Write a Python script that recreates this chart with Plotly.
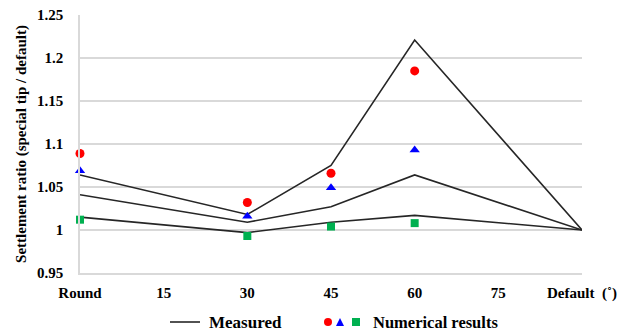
import plotly.graph_objects as go

categories = ["Round", "15", "30", "45", "60", "75", "Default  (˚)"]
line_x = ["Round", "30", "45", "60", "Default  (˚)"]
measured_upper = [1.064, 1.018, 1.075, 1.221, 1.0]
measured_middle = [1.041, 1.009, 1.027, 1.064, 1.0]
measured_lower = [1.015, 0.997, 1.009, 1.017, 1.0]

num_x = ["Round", "30", "45", "60"]
num_circle = [1.089, 1.032, 1.066, 1.185]
num_triangle = [1.069, 1.016, 1.049, 1.093]
num_square = [1.012, 0.993, 1.004, 1.008]

y_ticks = [0.95, 1.0, 1.05, 1.1, 1.15, 1.2, 1.25]
y_ticktext = ["0.95", "1", "1.05", "1.1", "1.15", "1.2", "1.25"]

pos = {c: i for i, c in enumerate(categories)}
font_family = "Liberation Serif"

fig = go.Figure()
for series in (measured_upper, measured_middle, measured_lower):
    fig.add_trace(go.Scatter(
        x=[pos[c] for c in line_x], y=series, mode="lines",
        line=dict(color="#262626", width=1.6), showlegend=False, cliponaxis=False))

for vals, sym, col in ((num_circle, "circle", "#ff0000"),
                       (num_triangle, "triangle-up", "#0000ff"),
                       (num_square, "square", "#00b050")):
    fig.add_trace(go.Scatter(
        x=[pos[c] for c in num_x], y=vals, mode="markers",
        marker=dict(symbol=sym, color=col, size=9 if sym != "square" else 8, line=dict(width=0)),
        showlegend=False, cliponaxis=False))

# legend drawn with shapes + annotations
def px2paper_x(px):
    return (px - 80) / 502.0

def py2paper_y(py):
    return (273 - py) / 258.0

ly = py2paper_y(322)
shapes = [
    dict(type="line", xref="paper", yref="paper", x0=px2paper_x(170), x1=px2paper_x(200),
         y0=ly, y1=ly, line=dict(color="#262626", width=1.6)),
    dict(type="circle", xref="paper", yref="paper", x0=px2paper_x(324), x1=px2paper_x(332),
         y0=py2paper_y(326), y1=py2paper_y(318), fillcolor="#ff0000", line=dict(width=0)),
    dict(type="path", xref="paper", yref="paper",
         path="M {} {} L {} {} L {} {} Z".format(px2paper_x(336), py2paper_y(326),
                                                 px2paper_x(344), py2paper_y(326),
                                                 px2paper_x(340), py2paper_y(318)),
         fillcolor="#0000ff", line=dict(width=0)),
    dict(type="rect", xref="paper", yref="paper", x0=px2paper_x(352), x1=px2paper_x(360),
         y0=py2paper_y(326), y1=py2paper_y(318), fillcolor="#00b050", line=dict(width=0)),
]
annotations = [
    dict(text="<b>Measured</b>", xref="paper", yref="paper", x=px2paper_x(207), y=ly,
         xanchor="left", yanchor="middle", showarrow=False,
         font=dict(family=font_family, size=17, color="#000")),
    dict(text="<b>Numerical results</b>", xref="paper", yref="paper", x=px2paper_x(371), y=ly,
         xanchor="left", yanchor="middle", showarrow=False,
         font=dict(family=font_family, size=16.5, color="#000")),
]

fig.update_layout(
    width=629, height=334,
    margin=dict(l=80, r=47, t=15, b=61),
    paper_bgcolor="white", plot_bgcolor="white",
    shapes=shapes, annotations=annotations,
    showlegend=False,
    font=dict(family=font_family, color="#000"),
    xaxis=dict(range=[0, 6], tickvals=list(range(len(categories))),
               ticktext=["<b>%s</b>" % c for c in categories],
               showgrid=False, zeroline=False, showline=True, linecolor="#d9d9d9", linewidth=1.5,
               ticks="", tickfont=dict(family=font_family, size=15), ticklabelstandoff=5,
               automargin=False),
    yaxis=dict(range=[0.95, 1.25], tickvals=y_ticks,
               ticktext=["<b>%s</b>" % t for t in y_ticktext],
               showgrid=True, gridcolor="#d9d9d9", gridwidth=1.5, zeroline=False,
               showline=True, linecolor="#d9d9d9", linewidth=1.5, ticks="",
               tickfont=dict(family=font_family, size=15), ticklabelstandoff=12,
               automargin=False,
               title=dict(text="<b>Settlement ratio (special tip / default)</b>",
                          font=dict(family=font_family, size=15), standoff=7)),
)

fig.write_html("out.html", config={"displayModeBar": False},
               post_script="document.body.style.margin='0';")
